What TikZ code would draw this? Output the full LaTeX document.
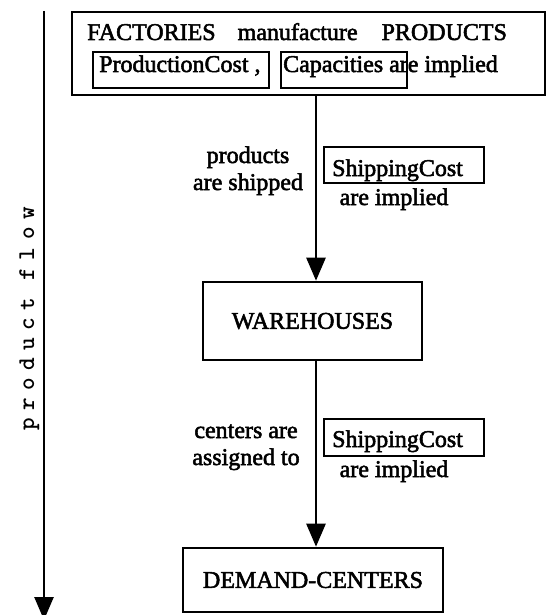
\documentclass[tikz,border=0pt]{standalone}
\usepackage{fontspec}
\setmainfont{Liberation Serif}[FakeBold=2.2]
\usetikzlibrary{arrows.meta}
\newcommand{\lsp}{\hspace{7.5pt}}
\begin{document}
\begin{tikzpicture}[x=1pt,y=-1pt,
  frame/.style={draw, line width=2.6pt, inner sep=0pt},
  lbl/.style={font=\fontsize{24}{28}\selectfont, inner sep=0pt},
  arr/.style={line width=2.6pt, -{Triangle[length=23pt,width=19pt]}}]
\useasboundingbox (0,0) rectangle (547,615);
% left flow arrow
\coordinate (ft) at (44,11);
\coordinate (fb) at (44,620);
\draw[arr] (ft) -- (fb);
\node[font=\ttfamily\bfseries\fontsize{24}{28}\selectfont, rotate=90, anchor=base, inner sep=0pt] (pf) at (34,319)
  {p\lsp r\lsp o\lsp d\lsp u\lsp c\lsp t\lsp\hspace{10pt}f\lsp l\lsp o\lsp w};
% factories box
\node[frame, minimum width=473pt, minimum height=83pt] (fac) at (308.5,53.5) {};
\node[lbl, anchor=base west] (l1) at (87,40) {FACTORIES\hspace{16pt} manufacture\hspace{18pt} PRODUCTS};
\node[frame, minimum width=176pt, minimum height=36pt] (pcbox) at (181,70) {};
\node[frame, minimum width=126pt, minimum height=36pt] (capbox) at (344,70) {};
\node[lbl, anchor=base west] (pc) at (99,72) {ProductionCost ,};
\node[lbl, anchor=base west] (cap) at (283,72) {Capacities are implied};
% warehouses and demand centers
\node[frame, lbl, minimum width=219pt, minimum height=78pt] (wh) at (312.5,321) {WAREHOUSES};
\node[frame, lbl, minimum width=260pt, minimum height=64pt] (dc) at (313,580) {DEMAND-CENTERS};
\coordinate (ax) at (316,0);
\draw[arr] (fac.south -| ax) -- (wh.north -| ax);
\draw[arr] (wh.south -| ax) -- (dc.north -| ax);
% first edge labels
\node[lbl, anchor=base] (m1a) at (248,163) {products};
\node[lbl, anchor=base] (m1b) at (248,190) {are shipped};
\node[frame, minimum width=160pt, minimum height=36pt] (sc1) at (404,165) {};
\node[lbl, anchor=base west] (sc1t) at (332,176) {ShippingCost};
\node[lbl, anchor=base] (ai1) at (394,205) {are implied};
% second edge labels
\node[lbl, anchor=base] (m2a) at (246,438) {centers are};
\node[lbl, anchor=base] (m2b) at (246,465) {assigned to};
\node[frame, minimum width=160pt, minimum height=37pt] (sc2) at (404,437.5) {};
\node[lbl, anchor=base west] (sc2t) at (332,447) {ShippingCost};
\node[lbl, anchor=base] (ai2) at (394,477) {are implied};
\end{tikzpicture}
\end{document}
